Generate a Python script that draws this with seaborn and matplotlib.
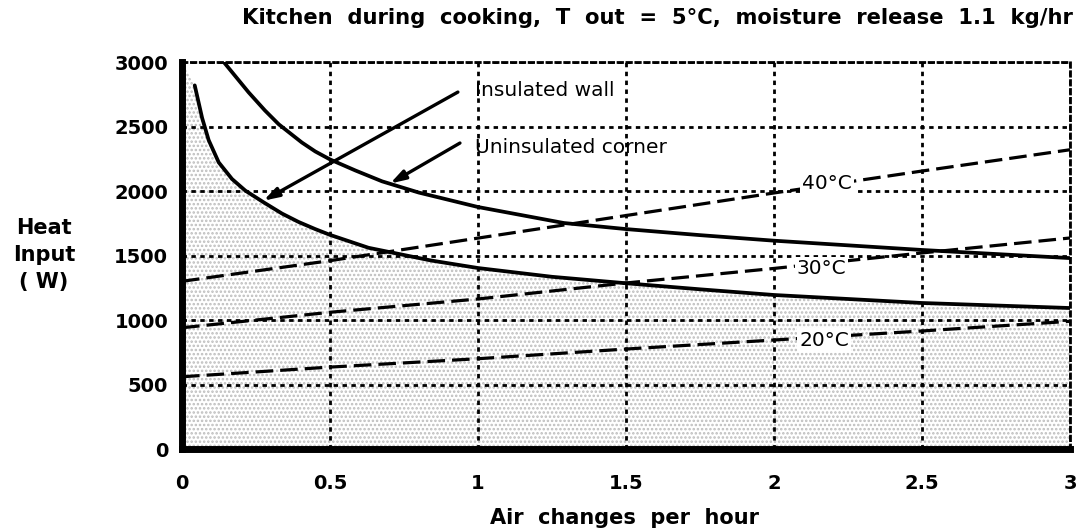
import matplotlib
matplotlib.use("Agg")
import matplotlib.pyplot as plt
import seaborn as sns

# Heating demand curves (W) against air changes per hour
ach_insulated = [0.043, 0.068, 0.09, 0.124, 0.169, 0.214, 0.276, 0.338, 0.394, 0.45,
                 0.5, 0.63, 0.84, 1.0, 1.25, 1.5, 1.75, 2.0, 2.5, 3.0]
heat_insulated = [2819, 2566, 2395, 2222, 2093, 2003, 1912, 1825, 1760, 1705,
                  1660, 1560, 1462, 1403, 1335, 1285, 1238, 1194, 1132, 1093]

ach_uninsulated = [0.141, 0.225, 0.28, 0.327, 0.405, 0.45, 0.5, 0.585, 0.676, 0.8,
                   1.0, 1.29, 1.5, 1.75, 2.0, 2.5, 3.0]
heat_uninsulated = [3000, 2765, 2625, 2517, 2376, 2307, 2245, 2160, 2075, 1988,
                    1876, 1752, 1705, 1658, 1615, 1543, 1480]

# Heat input needed to hold the kitchen air at each temperature
ach_temp = [0, 0.5, 1.0, 1.5, 2.0, 2.5, 3.0]
heat_40c = [1300, 1460, 1635, 1810, 1985, 2155, 2320]
heat_30c = [940, 1060, 1163, 1287, 1400, 1520, 1636]
heat_20c = [560, 635, 700, 775, 845, 915, 990]

temp_labels = ["40°C", "30°C", "20°C"]
temp_label_pos = [(2.18, 2062), (2.16, 1403), (2.17, 845)]

x_ticks = [0, 0.5, 1, 1.5, 2, 2.5, 3]
x_tick_labels = ["0", "0.5", "1", "1.5", "2", "2.5", "3"]
y_ticks = [0, 500, 1000, 1500, 2000, 2500, 3000]

title = "Kitchen  during  cooking,  T  out  =  5°C,  moisture  release  1.1  kg/hr"

sns.set_style("white")
plt.rcParams["font.family"] = ["DejaVu Sans"]
plt.rcParams["text.color"] = "black"
plt.rcParams["hatch.linewidth"] = 1.2

fig = plt.figure(figsize=(10.84, 5.32), dpi=100)
ax = fig.add_axes([0.1679, 0.156, 0.8192, 0.7274])

# stippled region below the insulated-wall curve
fill_x = [0.0] + ach_insulated
fill_y = [3000] + heat_insulated
ax.fill_between(fill_x, 0, fill_y, facecolor="white", hatch="....",
                edgecolor="#bdbdbd", linewidth=0, zorder=1)

dash = (0, (5.5, 2.2))
for ys in (heat_40c, heat_30c, heat_20c):
    sns.lineplot(x=ach_temp, y=ys, ax=ax, color="black", linewidth=2.3,
                 linestyle=dash, estimator=None, sort=False, zorder=3)

sns.lineplot(x=ach_insulated, y=heat_insulated, ax=ax, color="black",
             linewidth=2.7, estimator=None, sort=False, zorder=3)
sns.lineplot(x=ach_uninsulated, y=heat_uninsulated, ax=ax, color="black",
             linewidth=2.7, estimator=None, sort=False, zorder=3)

for lab, (tx, ty) in zip(temp_labels, temp_label_pos):
    ax.text(tx, ty, lab, fontsize=14.5, ha="center", va="center", zorder=5,
            bbox=dict(facecolor="white", edgecolor="none", pad=1.5))

arrow = dict(arrowstyle="-|>,head_length=0.9,head_width=0.28", lw=2.4,
             color="black", shrinkA=0, shrinkB=0)
ax.annotate("", xy=(0.275, 1925), xytext=(0.932, 2767), arrowprops=arrow, zorder=4)
ax.annotate("", xy=(0.703, 2058), xytext=(0.939, 2372), arrowprops=arrow, zorder=4)
ax.text(0.99, 2783, "Insulated wall", fontsize=14.5, ha="left", va="center", zorder=4)
ax.text(0.99, 2341, "Uninsulated corner", fontsize=14.5, ha="left", va="center", zorder=4)

ax.set_xlim(0, 3)
ax.set_ylim(0, 3000)
ax.set_xticks(x_ticks)
ax.set_xticklabels(x_tick_labels)
ax.set_yticks(y_ticks)
ax.set_xlabel("")
ax.set_ylabel("")

grid_style = (0, (1.6, 1.6))
ax.set_axisbelow("line")
ax.grid(True, color="black", linestyle=grid_style, linewidth=2.0)
for side in ("top", "right"):
    ax.spines[side].set_linestyle(grid_style)
    ax.spines[side].set_linewidth(2.0)
    ax.spines[side].set_color("black")
for side in ("left", "bottom"):
    ax.spines[side].set_linewidth(5)
    ax.spines[side].set_color("black")
    ax.spines[side].set_capstyle("projecting")

ax.tick_params(axis="both", direction="out", length=4, width=5, color="black",
               labelsize=14, labelcolor="black")
ax.tick_params(axis="x", pad=14)
ax.tick_params(axis="y", pad=6)
for lab in ax.get_xticklabels() + ax.get_yticklabels():
    lab.set_fontweight("bold")

fig.text(657 / 1084, 1 - 18 / 532, title, fontsize=15.2, fontweight="bold",
         ha="center", va="center")
fig.text(625 / 1084, 1 - 518 / 532, "Air  changes  per  hour", fontsize=15,
         fontweight="bold", ha="center", va="center")
fig.text(44 / 1084, 1 - 255 / 532, "Heat\nInput\n( W)", fontsize=15,
         fontweight="bold", ha="center", va="center", linespacing=1.45)

fig.savefig("out.png", dpi=100)
